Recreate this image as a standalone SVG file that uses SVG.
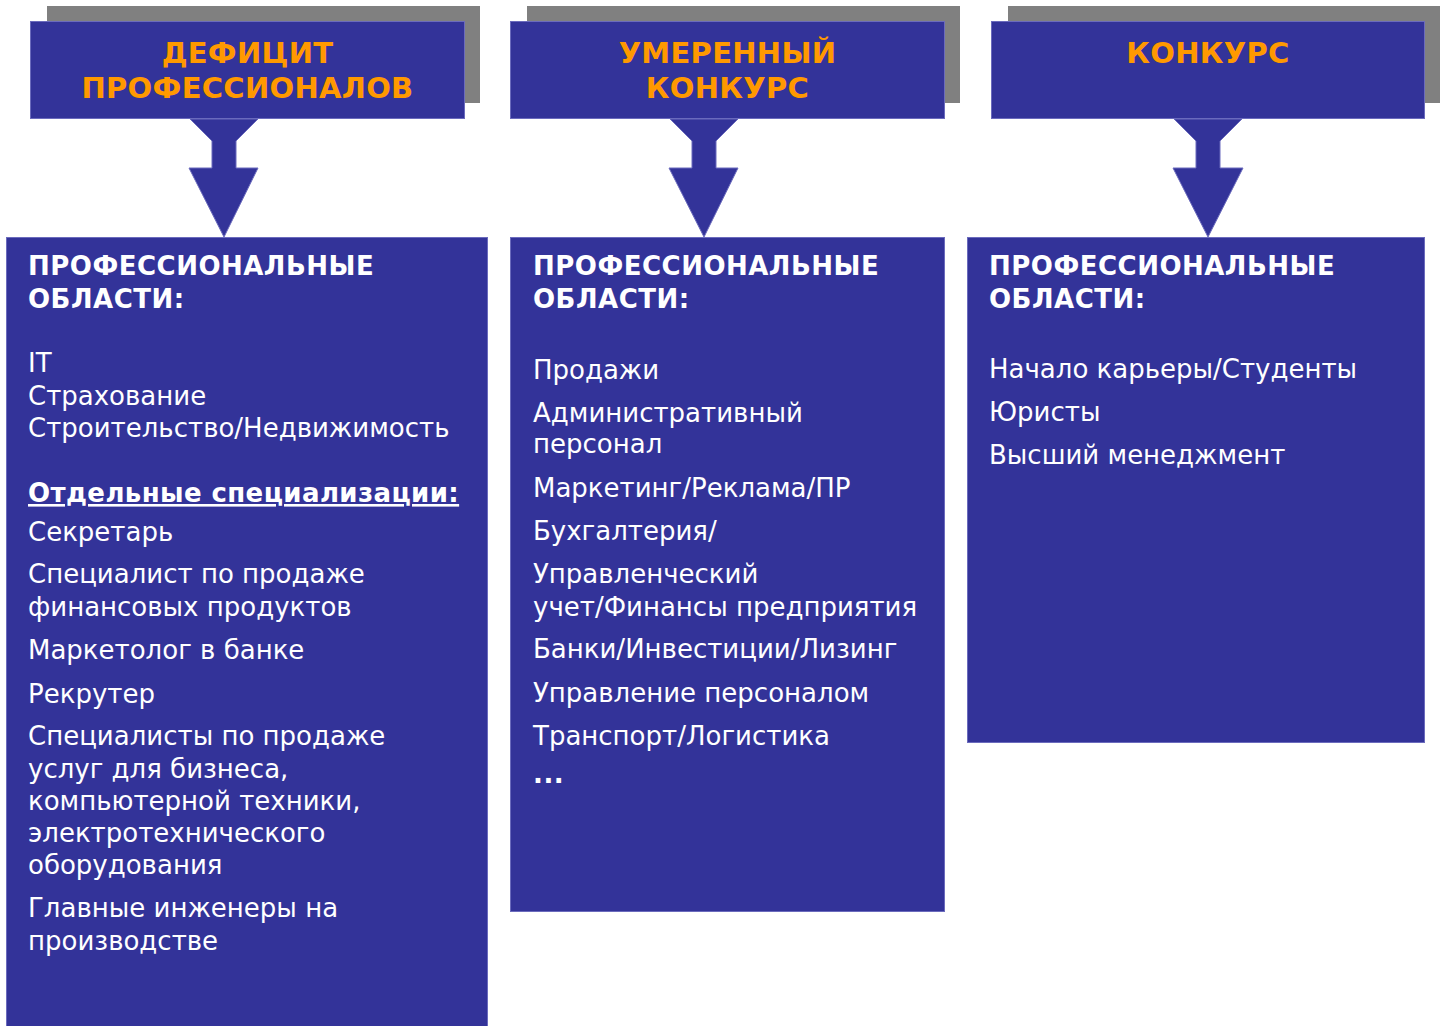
<svg xmlns="http://www.w3.org/2000/svg" width="1444" height="1026" viewBox="0 0 1444 1026">
<style>
.shadow{fill:#808080}
.blue{fill:#333399;stroke:#6b6bbd;stroke-width:1}
.title{font-family:"DejaVu Sans",Verdana,sans-serif;font-weight:bold;font-size:29px;letter-spacing:0.3px;fill:#FF9900;text-anchor:middle}
.head{font-family:"DejaVu Sans",Verdana,sans-serif;font-weight:bold;font-size:26px;letter-spacing:0.5px;fill:#ffffff}
.item{font-family:"DejaVu Sans",Verdana,sans-serif;font-size:26px;fill:#ffffff}
</style>
<rect width="1444" height="1026" fill="#ffffff"/>
<g id="column1">
  <rect class="shadow" x="47" y="6" width="433" height="97"/>
  <rect class="blue" x="30.5" y="21.5" width="434" height="97"/>
  <text class="title" x="247.5" y="63">ДЕФИЦИТ</text>
  <text class="title" x="247.5" y="98">ПРОФЕССИОНАЛОВ</text>
</g>
<g id="column2">
  <rect class="shadow" x="527" y="6" width="433" height="97"/>
  <rect class="blue" x="510.5" y="21.5" width="434" height="97"/>
  <text class="title" x="727.5" y="63">УМЕРЕННЫЙ</text>
  <text class="title" x="727.5" y="98">КОНКУРС</text>
</g>
<g id="column3">
  <rect class="shadow" x="1008" y="6" width="432" height="97"/>
  <rect class="blue" x="991.5" y="21.5" width="433" height="97"/>
  <text class="title" x="1208" y="63">КОНКУРС</text>
</g>
<g id="connectors">
  <path class="blue" d="M190,119 L258,119 L236,141 L236,168 L258,168 L224,237 L189,168 L212,168 L212,141 Z"/>
  <path class="blue" d="M670,119 L738,119 L716,141 L716,168 L738,168 L704,237 L669,168 L692,168 L692,141 Z"/>
  <path class="blue" d="M1174,119 L1242,119 L1220,141 L1220,168 L1243,168 L1208,237 L1173,168 L1196,168 L1196,141 Z"/>
</g>
<g id="box1">
  <rect class="blue" x="6.5" y="237.5" width="481" height="800"/>
  <text class="head" x="28" y="275">ПРОФЕССИОНАЛЬНЫЕ</text>
  <text class="head" x="28" y="308">ОБЛАСТИ:</text>
  <text class="item" x="28" y="372">IT</text>
  <text class="item" x="28" y="405">Страхование</text>
  <text class="item" x="28" y="437">Строительство/Недвижимость</text>
  <text class="head" x="28" y="502" style="letter-spacing:0.4px" text-decoration="underline">Отдельные специализации:</text>
  <text class="item" x="28" y="541">Секретарь</text>
  <text class="item" x="28" y="583">Специалист по продаже</text>
  <text class="item" x="28" y="616">финансовых продуктов</text>
  <text class="item" x="28" y="659">Маркетолог в банке</text>
  <text class="item" x="28" y="703">Рекрутер</text>
  <text class="item" x="28" y="745">Специалисты по продаже</text>
  <text class="item" x="28" y="778">услуг для бизнеса,</text>
  <text class="item" x="28" y="810">компьютерной техники,</text>
  <text class="item" x="28" y="842">электротехнического</text>
  <text class="item" x="28" y="874">оборудования</text>
  <text class="item" x="28" y="917">Главные инженеры на</text>
  <text class="item" x="28" y="950">производстве</text>
</g>
<g id="box2">
  <rect class="blue" x="510.5" y="237.5" width="434" height="674"/>
  <text class="head" x="533" y="275">ПРОФЕССИОНАЛЬНЫЕ</text>
  <text class="head" x="533" y="308">ОБЛАСТИ:</text>
  <text class="item" x="533" y="379">Продажи</text>
  <text class="item" x="533" y="422">Административный</text>
  <text class="item" x="533" y="453">персонал</text>
  <text class="item" x="533" y="497">Маркетинг/Реклама/ПР</text>
  <text class="item" x="533" y="540">Бухгалтерия/</text>
  <text class="item" x="533" y="583">Управленческий</text>
  <text class="item" x="533" y="616">учет/Финансы предприятия</text>
  <text class="item" x="533" y="658">Банки/Инвестиции/Лизинг</text>
  <text class="item" x="533" y="702">Управление персоналом</text>
  <text class="item" x="533" y="745">Транспорт/Логистика</text>
  <text class="head" x="533" y="783">...</text>
</g>
<g id="box3">
  <rect class="blue" x="967.5" y="237.5" width="457" height="505"/>
  <text class="head" x="989" y="275">ПРОФЕССИОНАЛЬНЫЕ</text>
  <text class="head" x="989" y="308">ОБЛАСТИ:</text>
  <text class="item" x="989" y="378">Начало карьеры/Студенты</text>
  <text class="item" x="989" y="421">Юристы</text>
  <text class="item" x="989" y="464">Высший менеджмент</text>
</g>
</svg>
